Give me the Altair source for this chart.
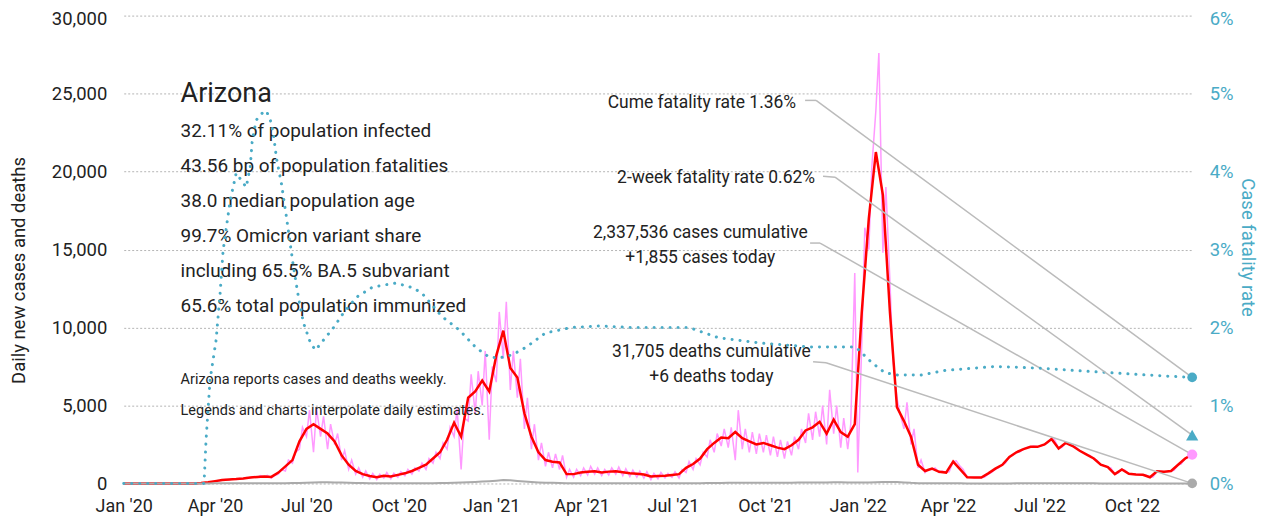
import altair as alt
import pandas as pd

# ---------------- data ----------------
START_DATE = "2020-01-01"
LAST_DATE = "2022-11-30"

# smoothed daily new cases, one value per week starting 2020-01-01
cases_smooth = [
    0, 0, 0, 0, 0, 0, 0, 0, 0, 0,
    5, 30, 80,
    150, 220, 250, 280, 320, 380, 420, 450, 420,
    700, 1100, 1500, 2700, 3500, 3800, 3500, 3200, 2700,
    1800, 1200, 800, 600, 480, 400, 500, 450, 550,
    650, 800, 1000, 1200, 1600, 2000, 2800, 3900, 3000,
    5500, 5900, 6600, 5900, 8200, 9800, 7400, 6800, 4500,
    3000, 2000, 1500, 1400, 1350, 600, 600, 700, 750,
    780, 700, 760, 780, 720, 650, 620, 580, 450,
    480, 500, 550, 600, 1000, 1250, 1600, 2200, 2600,
    2950, 2900, 3300, 2900, 2700, 2500, 2600, 2450, 2300,
    2200, 2450, 2800, 3400, 3600, 3950, 3200, 4100, 3300,
    3000, 3800, 11000, 17000, 21250, 18500, 11000, 4900, 4000,
    3000, 1200, 800, 950, 750, 700, 1400, 900, 400,
    380, 380, 650, 950, 1200, 1700, 2000, 2200, 2350,
    2350, 2500, 2850, 2250, 2600, 2400, 2100, 1850, 1600,
    1200, 1050, 600, 900, 620, 580, 560, 400, 780,
    760, 800, 1200, 1600, 1855,
]

# raw daily cases, two readings per week (day 0 and day 3 of each week)
cases_raw = [
    (0, 0), (0, 0), (0, 0), (0, 0), (0, 0), (0, 0), (0, 0), (0, 0), (0, 0), (0, 0),
    (0, 10), (20, 50), (60, 100), (150, 160), (200, 260), (230, 300), (250, 320),
    (300, 380), (350, 450), (380, 500), (420, 520), (350, 500), (600, 900),
    (800, 1500), (1300, 2000), (2200, 3600), (3000, 4700), (2000, 4800),
    (3000, 4300), (2200, 3800), (2500, 3200), (1500, 2100), (900, 1500),
    (600, 1000), (400, 800), (300, 650), (250, 600), (350, 700), (300, 650),
    (400, 750), (500, 900), (600, 1000), (800, 1300), (900, 1600), (1300, 2000),
    (1600, 2600), (2200, 3600), (3000, 4800), (900, 4200), (4000, 7000),
    (4500, 7200), (5000, 8500), (2800, 7500), (6500, 11000), (8000, 11650),
    (6000, 8500), (5500, 8000), (3500, 5500), (2200, 3800), (1500, 2600),
    (1100, 2000), (1000, 1900), (900, 1800), (400, 900), (400, 900), (500, 1000),
    (550, 1100), (600, 1000), (500, 900), (550, 1000), (600, 1050), (500, 950),
    (450, 850), (400, 800), (350, 750), (250, 650), (300, 700), (350, 650),
    (400, 750), (350, 900), (700, 1400), (900, 1600), (1200, 2000), (1700, 2800),
    (2000, 3200), (2400, 3500), (2300, 3600), (1500, 4700), (2200, 3500),
    (2000, 3300), (1900, 3200), (2000, 3100), (1800, 3000), (1700, 2800),
    (1600, 2700), (1800, 3000), (2200, 3500), (2600, 4500), (2800, 4600),
    (3000, 5000), (2500, 6000), (3200, 5000), (2300, 4200), (2200, 3800),
    (13500, 700), (9000, 16400), (15000, 20300), (23900, 27600), (14800, 19000),
    (13000, 8000), (5500, 4500), (3500, 5200), (2500, 3500), (1000, 1500),
    (700, 900), (900, 1000), (700, 800), (700, 750), (1400, 1450), (1100, 900),
    (400, 400), (380, 380), (380, 400), (600, 700), (900, 1000), (1200, 1300),
    (1700, 1800), (2000, 2000), (2200, 2300), (2350, 2400), (2350, 2400),
    (2500, 2600), (2900, 2800), (2250, 2300), (2600, 2600), (2400, 2350),
    (2100, 2000), (1850, 1800), (1600, 1500), (1200, 1150), (1050, 1000),
    (600, 650), (900, 850), (620, 600), (580, 580), (560, 550), (400, 420),
    (780, 780), (760, 770), (800, 850), (1200, 1250), (1600, 1700),
]

# daily deaths, one value per week
deaths_weekly = [
    0, 0, 0, 0, 0, 0, 0, 0, 0, 0, 0, 0,
    5, 10, 15, 15, 20, 20, 18, 15, 15,
    15, 18, 20, 25, 35, 50,
    70, 80, 80, 70, 55,
    40, 30, 25, 20, 15, 12, 12,
    10, 10, 12, 15, 15, 20, 25,
    35, 45, 55, 75, 100, 120, 150,
    180, 220, 200, 160, 120,
    90, 70, 50, 40, 30, 20,
    15, 12, 12, 10, 10, 10, 10, 10, 8, 8, 8, 8, 8, 10, 10, 12,
    15, 18, 20, 25, 30, 35, 40, 45, 50, 50, 45, 40, 40, 45, 45, 50, 55, 60, 65, 70,
    70, 75, 80, 70, 60, 60, 70, 80, 90, 100, 90, 70, 40,
    20, 15, 15, 12, 10, 8, 8, 5, 5, 5, 5, 5, 5, 5, 8, 8, 8, 10, 10, 10,
    10, 10, 8, 8, 8, 8, 5, 5, 5, 5, 5, 5, 5, 5, 5, 5, 5, 5, 6, 6,
]

# case fatality rate (%)
cfr_dates = [
    "2020-01-01", "2020-03-21", "2020-03-23", "2020-03-27", "2020-04-02",
    "2020-04-06", "2020-04-09", "2020-04-16", "2020-04-22", "2020-04-27",
    "2020-05-02", "2020-05-06", "2020-05-08", "2020-05-12", "2020-05-18",
    "2020-05-22", "2020-05-26", "2020-05-29", "2020-06-01", "2020-06-06",
    "2020-06-11", "2020-06-18", "2020-06-23", "2020-06-28", "2020-07-05",
    "2020-07-10", "2020-07-18", "2020-07-28", "2020-08-07", "2020-08-20",
    "2020-09-05", "2020-09-28", "2020-10-15", "2020-10-24", "2020-11-13",
    "2020-11-30", "2020-12-17", "2020-12-30", "2021-01-09", "2021-01-22",
    "2021-02-05", "2021-02-24", "2021-03-22", "2021-04-18", "2021-05-21",
    "2021-07-17", "2021-08-15", "2021-09-27", "2021-11-16", "2021-12-30",
    "2022-01-15", "2022-01-28", "2022-02-10", "2022-03-05", "2022-03-29",
    "2022-05-18", "2022-06-29", "2022-08-28", "2022-10-17", "2022-11-30",
]
cfr_pct = [
    0, 0, 0.56, 1.33, 1.84,
    2.44, 2.99, 3.63, 3.98, 3.89,
    3.80, 4.06, 4.40, 4.66, 4.75,
    4.78, 4.66, 4.49, 4.18, 3.85,
    3.42, 2.78, 2.39, 2.06, 1.80,
    1.71, 1.84, 2.00, 2.19, 2.39,
    2.52, 2.57, 2.51, 2.44, 2.14,
    1.97, 1.74, 1.62, 1.61, 1.65,
    1.75, 1.93, 2.00, 2.02, 2.00,
    2.00, 1.87, 1.80, 1.75, 1.75,
    1.55, 1.42, 1.39, 1.39, 1.45,
    1.50, 1.48, 1.43, 1.39, 1.36,
]

cume_cfr_pct = 1.36
two_week_cfr_pct = 0.62
cases_cumulative = 2337536
cases_today = 1855
deaths_cumulative = 31705
deaths_today = 6

title_text = "Arizona"
stats_lines = [
    "32.11% of population infected",
    "43.56 bp of population fatalities",
    "38.0 median population age",
    "99.7% Omicron variant share",
    "including 65.5% BA.5 subvariant",
    "65.6% total population immunized",
]
note_lines = [
    "Arizona reports cases and deaths weekly.",
    "Legends and charts interpolate daily estimates.",
]
left_ticks = [0, 5000, 10000, 15000, 20000, 25000, 30000]
right_ticks = [0, 0.01, 0.02, 0.03, 0.04, 0.05, 0.06]

# ---------------- styling ----------------
FONT_AX = "Roboto"
FONT_TX = "Roboto"
TEAL = "#4aabc6"
PINK = "#ff99ff"
RED = "#ff0000"
GREY = "#aaaaaa"
INK = "#222222"
LEADER = "#bbbbbb"
W, H = 1071, 469

# ---------------- tables ----------------
start = pd.Timestamp(START_DATE)
fmt = "%Y-%m-%d"
smooth_df = pd.DataFrame({
    "date": [(start + pd.Timedelta(days=7 * i)).strftime(fmt) for i in range(len(cases_smooth))],
    "v": cases_smooth,
})
deaths_df = pd.DataFrame({
    "date": [(start + pd.Timedelta(days=7 * i)).strftime(fmt) for i in range(len(deaths_weekly))],
    "v": deaths_weekly,
})
raw_dates, raw_vals = [], []
for i, (a, b) in enumerate(cases_raw):
    d0 = start + pd.Timedelta(days=7 * i)
    raw_dates += [d0.strftime(fmt), (d0 + pd.Timedelta(days=3)).strftime(fmt)]
    raw_vals += [a, b]
raw_dates.append(LAST_DATE)
raw_vals.append(cases_today)
raw_df = pd.DataFrame({"date": raw_dates, "v": raw_vals})
cfr_df = pd.DataFrame({"date": cfr_dates, "v": [p / 100 for p in cfr_pct]})
dummy = pd.DataFrame({"k": [0]})

# ---------------- encodings ----------------
x_enc = alt.X(
    "date:T", title=None,
    scale=alt.Scale(domain=[alt.DateTime(year=2020, month=1, date=1),
                            alt.DateTime(year=2022, month=11, date=30)]),
    axis=alt.Axis(format="%b '%y", tickCount={"interval": "month", "step": 3},
                  labelFont=FONT_AX, labelFontSize=18, labelColor=INK,
                  labelPadding=14, ticks=False, domain=False, grid=False,
                  labelFlush=False, labelOverlap=False),
)
y_left = alt.Y(
    "v:Q", title="Daily new cases and deaths",
    scale=alt.Scale(domain=[0, 30000], nice=False),
    axis=alt.Axis(values=left_ticks, format=",.0f", labelFont=FONT_AX, labelFontSize=18.5,
                  labelColor=INK, labelPadding=17, ticks=False, domain=False,
                  labelOffset={"condition": {"test": "datum.value >= 30000", "value": 3},
                               "value": 0},
                  grid=True, gridColor="#b5b5b5", gridDash=[2, 2], gridWidth=1,
                  titleFont=FONT_AX, titleFontSize=18.5, titleFontWeight="normal",
                  titleColor=INK, titleAngle=-90, titleX=-105, titleY=255,
                  titleAlign="center", titleBaseline="middle"),
)
y_right = alt.Y(
    "v:Q", title="Case fatality rate",
    scale=alt.Scale(domain=[0, 0.06], nice=False),
    axis=alt.Axis(orient="right", values=right_ticks, format=".0%", labelFont=FONT_AX,
                  labelFontSize=18.5, labelColor=TEAL, labelPadding=17, ticks=False,
                  labelOffset={"condition": {"test": "datum.value >= 0.059", "value": 3},
                               "value": 0},
                  domain=False, grid=False, titleFont=FONT_AX, titleFontSize=18.5,
                  titleFontWeight="normal", titleColor=TEAL, titleAngle=90,
                  titleX=55, titleY=232, titleAlign="center", titleBaseline="middle"),
)

# ---------------- left (cases/deaths) layers ----------------
pink = alt.Chart(raw_df).mark_line(color=PINK, strokeWidth=1.5).encode(x=x_enc, y=y_left)
red = alt.Chart(smooth_df).mark_line(color=RED, strokeWidth=2.5).encode(x=x_enc, y=y_left)
grey = alt.Chart(deaths_df).mark_line(color=GREY, strokeWidth=2).encode(x=x_enc, y=y_left)


def end_df(val):
    return pd.DataFrame({"date": [LAST_DATE], "v": [val]})


def leader(df, y_enc, bend, elbow_start):
    diag = alt.Chart(df).mark_rule(color=LEADER, strokeWidth=1.5).encode(
        x=x_enc, y=y_enc, x2=alt.value(bend[0]), y2=alt.value(bend[1]))
    elbow = alt.Chart(dummy).mark_rule(color=LEADER, strokeWidth=1.5).encode(
        x=alt.value(elbow_start[0]), x2=alt.value(bend[0]),
        y=alt.value(elbow_start[1]), y2=alt.value(bend[1]))
    return [diag, elbow]


def marker(df, y_enc, color, shape="circle", size=95):
    return alt.Chart(df).mark_point(filled=True, opacity=1, color=color, shape=shape,
                                     size=size).encode(x=x_enc, y=y_enc)


def label(txt, px, py, size, align="left", weight="normal"):
    return alt.Chart(dummy).mark_text(
        text=txt, font=FONT_TX, fontSize=size, color=INK, align=align,
        baseline="alphabetic", fontWeight=weight,
    ).encode(x=alt.value(px), y=alt.value(py))


cases_end = end_df(cases_today)
deaths_end = end_df(deaths_today)
cfr_end = end_df(cume_cfr_pct / 100)
cfr2_end = end_df(two_week_cfr_pct / 100)

texts = [label(title_text, 57, 87, 27)]
for i, s in enumerate(stats_lines):
    texts.append(label(s, 57, 122 + 35 * i, 19))
for i, s in enumerate(note_lines):
    texts.append(label(s, 57, 369 + 31 * i, 14.5))
texts += [
    label(f"Cume fatality rate {cume_cfr_pct:.2f}%", 674, 93, 17.5, "right"),
    label(f"2-week fatality rate {two_week_cfr_pct:.2f}%", 693, 168, 17.5, "right"),
    label(f"{cases_cumulative:,} cases cumulative", 578, 223, 17.5, "center"),
    label(f"+{cases_today:,} cases today", 578, 248, 17.5, "center"),
    label(f"{deaths_cumulative:,} deaths cumulative", 589, 342, 17.5, "center"),
    label(f"+{deaths_today} deaths today", 589, 367, 17.5, "center"),
]

left_layers = [pink, red, grey]
left_layers += leader(cases_end, y_left, (698, 228), (688, 228))
left_layers += leader(deaths_end, y_left, (704, 348), (691, 347))
left_layers += [marker(cases_end, y_left, PINK, size=105),
                marker(deaths_end, y_left, GREY, size=95)]
left_layers += texts
left = alt.layer(*left_layers)

# ---------------- right (fatality rate) layers ----------------
cfr_line = alt.Chart(cfr_df).mark_line(
    color=TEAL, strokeWidth=3, strokeDash=[0.1, 7.9], strokeCap="round"
).encode(x=x_enc, y=y_right)
right_layers = [cfr_line]
right_layers += leader(cfr_end, y_right, (694, 85), (683, 85))
right_layers += leader(cfr2_end, y_right, (713, 162), (701, 161))
right_layers += [marker(cfr_end, y_right, TEAL, size=95),
                 marker(cfr2_end, y_right, TEAL, shape="triangle-up", size=150)]
right = alt.layer(*right_layers)

chart = (
    alt.layer(left, right)
    .resolve_scale(y="independent")
    .properties(width=W, height=H, autosize=alt.AutoSizeParams(type="none"),
                padding={"left": 116, "top": 7, "right": 70, "bottom": 40},
                background="white")
    .configure_view(stroke=None)
)

chart.save("out.html", embed_options={"renderer": "svg", "actions": False})
